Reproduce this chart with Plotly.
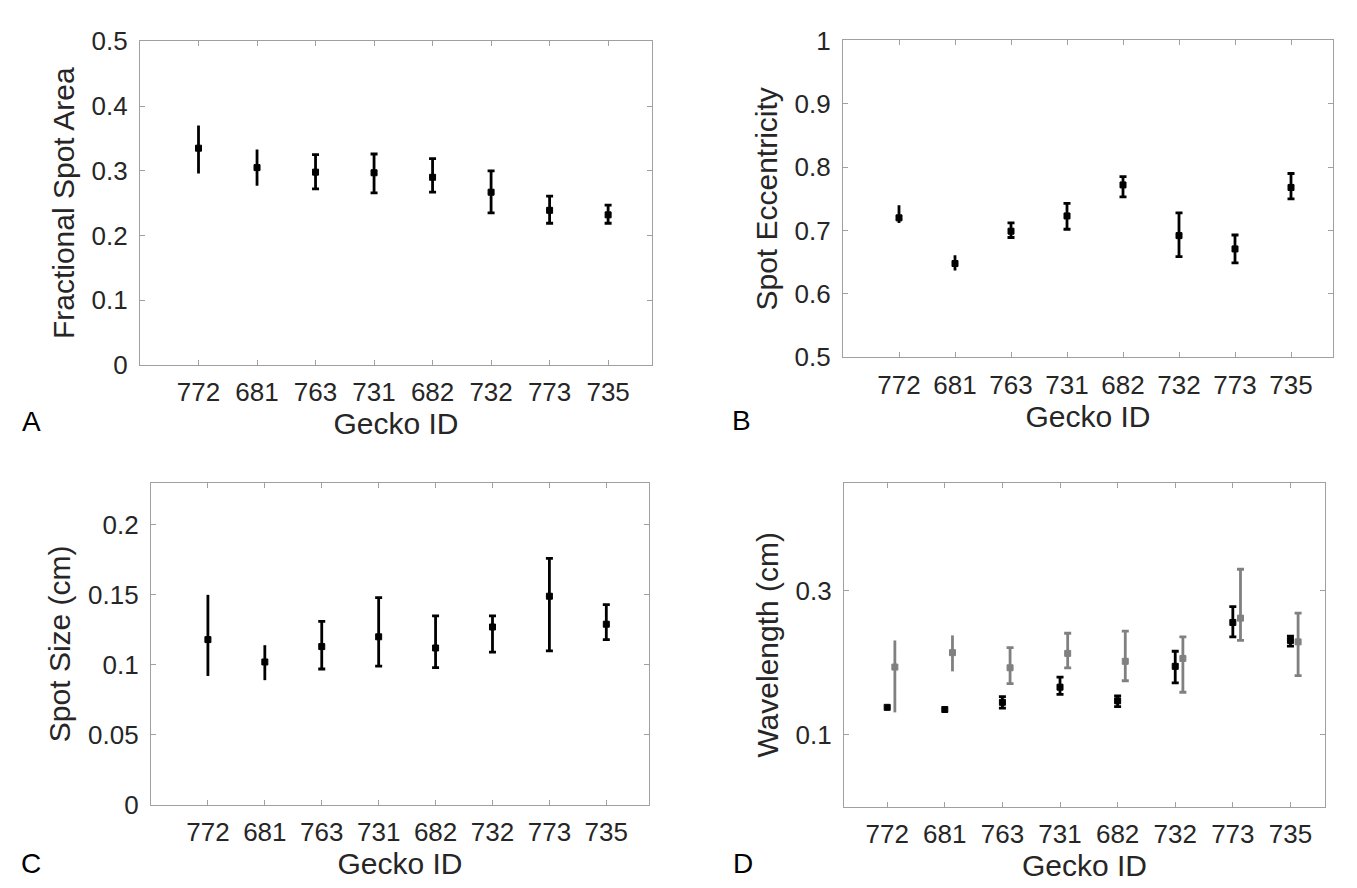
import plotly.graph_objects as go

W, H = 1357, 888

gecko_ids = ['772', '681', '763', '731', '682', '732', '773', '735']

# A: fractional spot area (mean, upper, lower)
area_mean = [0.335, 0.305, 0.298, 0.297, 0.290, 0.267, 0.239, 0.232]
area_hi = [0.370, 0.333, 0.325, 0.326, 0.319, 0.300, 0.261, 0.247]
area_lo = [0.296, 0.277, 0.272, 0.266, 0.267, 0.235, 0.219, 0.219]

# B: spot eccentricity
ecc_mean = [0.720, 0.648, 0.699, 0.723, 0.772, 0.692, 0.671, 0.768]
ecc_hi = [0.740, 0.661, 0.712, 0.743, 0.785, 0.728, 0.693, 0.790]
ecc_lo = [0.712, 0.637, 0.689, 0.702, 0.753, 0.659, 0.649, 0.750]

# C: spot size (cm)
size_mean = [0.118, 0.102, 0.113, 0.120, 0.112, 0.127, 0.149, 0.129]
size_hi = [0.150, 0.114, 0.131, 0.148, 0.135, 0.135, 0.176, 0.143]
size_lo = [0.092, 0.089, 0.097, 0.099, 0.098, 0.109, 0.110, 0.118]

# D: wavelength (cm), two series
wl_black = [0.138, 0.135, 0.145, 0.166, 0.147, 0.195, 0.256, 0.231]
wl_black_hi = [0.141, 0.137, 0.153, 0.180, 0.154, 0.216, 0.278, 0.237]
wl_black_lo = [0.135, 0.133, 0.137, 0.156, 0.139, 0.172, 0.236, 0.223]
wl_gray = [0.194, 0.214, 0.193, 0.213, 0.202, 0.206, 0.262, 0.229]
wl_gray_hi = [0.231, 0.238, 0.221, 0.241, 0.244, 0.236, 0.330, 0.269]
wl_gray_lo = [0.131, 0.188, 0.171, 0.193, 0.175, 0.159, 0.231, 0.182]

positions = list(range(1, len(gecko_ids) + 1))
gray_offset = 0.133
n_uncapped = 2  # first two error bars are drawn without caps in the original

font_family = 'Liberation Sans, Arial, sans-serif'
text_color = '#262626'
axis_color = '#a0a0a0'
tick_size = 26
title_size = 30


def err_traces(x, mean, hi, lo, color, xa, ya):
    """Error bar traces; the first points get no cross-bars"""
    traces = []
    for sl, cap in [(slice(0, n_uncapped), 0), (slice(n_uncapped, None), 3.5)]:
        m, h, l = mean[sl], hi[sl], lo[sl]
        traces.append(go.Scatter(
            x=x[sl], y=m, xaxis=xa, yaxis=ya, mode='markers',
            marker=dict(symbol='square', size=6, color=color,
                        line=dict(color=color, width=1)),
            error_y=dict(type='data', symmetric=False,
                         array=[a - b for a, b in zip(h, m)],
                         arrayminus=[b - c for b, c in zip(m, l)],
                         color=color, thickness=2.8, width=cap),
            showlegend=False, hoverinfo='skip'))
    return traces


def px_dom(a, b, total, flip=False):
    if flip:
        return [1 - b / total, 1 - a / total]
    return [a / total, b / total]


plot_data = []
plot_data += err_traces(positions, area_mean, area_hi, area_lo, 'black', 'x', 'y')
plot_data += err_traces(positions, ecc_mean, ecc_hi, ecc_lo, 'black', 'x2', 'y2')
plot_data += err_traces(positions, size_mean, size_hi, size_lo, 'black', 'x3', 'y3')
plot_data += err_traces(positions, wl_black, wl_black_hi, wl_black_lo, 'black', 'x4', 'y4')
plot_data += err_traces([p + gray_offset for p in positions], wl_gray, wl_gray_hi, wl_gray_lo,
                        '#808080', 'x4', 'y4')

common_axis = dict(showline=True, linecolor=axis_color, linewidth=1.2,
                   mirror='ticks', ticks='inside', ticklen=5, tickcolor=axis_color,
                   showgrid=False, zeroline=False,
                   tickfont=dict(family=font_family, size=tick_size, color=text_color))

xaxis_common = dict(common_axis, tickmode='array', tickvals=positions, ticktext=gecko_ids,
                    ticklabelstandoff=4,
                    title=dict(text='Gecko ID', standoff=0,
                               font=dict(family=font_family, size=title_size, color=text_color)))


def ytitle(text):
    return dict(text=text, standoff=8,
                font=dict(family=font_family, size=title_size, color=text_color))


yaxis_common = dict(common_axis, ticklabelstandoff=6)

layout = go.Layout(
    width=W, height=H, margin=dict(l=0, r=0, t=0, b=0),
    paper_bgcolor='white', plot_bgcolor='white',
    xaxis=dict(xaxis_common, domain=px_dom(132, 644, W), range=[0, 8.75], anchor='y'),
    yaxis=dict(yaxis_common, domain=px_dom(19, 354, H, True), range=[0, 0.5], dtick=0.1,
               title=ytitle('Fractional Spot Area'), anchor='x'),
    xaxis2=dict(xaxis_common, domain=px_dom(835, 1325, W), range=[0, 8.75], anchor='y2'),
    yaxis2=dict(yaxis_common, domain=px_dom(18, 346, H, True), range=[0.5, 1], dtick=0.1,
                title=ytitle('Spot Eccentricity'), anchor='x2'),
    xaxis3=dict(xaxis_common, domain=px_dom(143, 641, W), range=[0, 8.75], anchor='y3'),
    yaxis3=dict(yaxis_common, domain=px_dom(476, 809, H, True), range=[0, 0.23], dtick=0.05,
                title=ytitle('Spot Size (cm)'), anchor='x3'),
    xaxis4=dict(xaxis_common, domain=px_dom(836, 1317, W), range=[0.25, 8.6], anchor='y4'),
    yaxis4=dict(yaxis_common, domain=px_dom(476, 811, H, True), range=[0, 0.45],
                tickmode='array', tickvals=[0.1, 0.3], ticktext=['0.1', '0.3'],
                title=ytitle('Wavelength (cm)'), anchor='x4'),
    font=dict(family=font_family, color=text_color),
)

fig = go.Figure(data=plot_data, layout=layout)

for letter, lx, ly in [('A', 23, 412), ('B', 733, 411), ('C', 23, 870), ('D', 735, 870)]:
    fig.add_annotation(text=letter, x=lx / W, y=1 - ly / H, xref='paper', yref='paper',
                       showarrow=False, xanchor='center', yanchor='middle',
                       font=dict(family=font_family, size=28, color='black'))

fig.write_html('out.html')
